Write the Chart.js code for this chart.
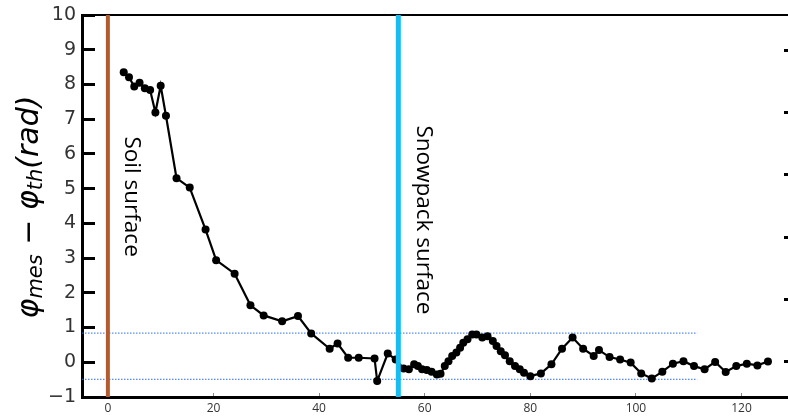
<!DOCTYPE html>
<html>
<head>
<meta charset="utf-8">
<script src="https://cdn.jsdelivr.net/npm/chart.js@4.4.1/dist/chart.umd.min.js"></script>
<style>
  html, body { margin: 0; padding: 0; background: #fff; overflow: hidden; }
  #wrap { width: 800px; height: 419px; }
</style>
</head>
<body>
<div id="wrap"><canvas id="chart" width="800" height="419"></canvas></div>
<script>
// --- data ---
const depth = [3, 4, 5, 6, 7, 8, 9, 10, 11, 13, 15.5, 18.5, 20.5, 24, 27, 29.5, 33, 36, 38.5, 42,
  43.5, 45.5, 47.5, 50.5, 51, 53, 54.5, 56, 57, 58, 58.7, 59.5, 60.4, 61.3, 62.3, 63, 63.8, 64.5,
  65.2, 66, 66.7, 67.3, 68.1, 69, 69.8, 70.9, 71.9, 72.9, 73.6, 74.4, 75.2, 76.1, 77.1, 78, 78.8,
  80, 82, 84, 86, 88, 90, 92, 93, 95, 97, 99, 101, 103, 105, 107, 109, 111, 113, 115, 117, 119,
  121, 123, 125];
const phaseDiff = [8.35, 8.21, 7.94, 8.05, 7.89, 7.84, 7.19, 7.96, 7.10, 5.30, 5.03, 3.82, 2.94,
  2.55, 1.64, 1.35, 1.18, 1.33, 0.83, 0.39, 0.54, 0.13, 0.13, 0.11, -0.54, 0.25, 0.08, -0.18,
  -0.20, -0.06, -0.11, -0.20, -0.22, -0.27, -0.35, -0.33, -0.11, 0.03, 0.18, 0.28, 0.42, 0.56,
  0.66, 0.80, 0.80, 0.71, 0.75, 0.61, 0.47, 0.32, 0.20, 0.03, -0.11, -0.20, -0.30, -0.40, -0.32,
  -0.06, 0.39, 0.71, 0.39, 0.18, 0.35, 0.15, 0.08, -0.01, -0.32, -0.47, -0.27, -0.04, 0.03, -0.11,
  -0.20, 0.01, -0.28, -0.11, -0.04, -0.09, 0.02];

const soilSurface = 0;
const snowSurface = 55;
const bandLevels = [0.84, -0.49];
const bandEnd = 111.6;

const xTickValues = [0, 20, 40, 60, 80, 100, 120];
const rightTickValues = [0, 1, 2, 3, 4, 5];

const notes = [
  { text: 'Soil surface', x: 4.4, y: 4.77 },
  { text: 'Snowpack surface', x: 59.7, y: 4.1 }
];

const xMin = -4.9, xMax = 130.5;

// vertical marker lines + band lines
const vLine = (x, color, w) => ({
  data: [{ x: x, y: -1 }, { x: x, y: 10 }],
  borderColor: color, borderWidth: w, pointRadius: 0, order: 0
});
const hLine = (y) => ({
  data: [{ x: xMin, y: y }, { x: bandEnd, y: y }],
  borderColor: '#2f6df0', borderWidth: 1, borderDash: [1.5, 1.5], pointRadius: 0, order: 2
});

// no extra room for half-labels at the ends of the axes
const noPad = s => { s.paddingTop = 0; s.paddingBottom = 0; s.paddingLeft = 0; s.paddingRight = 0; };

// rotated notes at data positions
const notesPlugin = {
  id: 'notes',
  afterDatasetsDraw(chart) {
    const { ctx, scales: { x, y } } = chart;
    ctx.save();
    ctx.font = '22.5px "Open Sans"';
    ctx.fillStyle = '#000';
    ctx.textAlign = 'center';
    ctx.textBaseline = 'middle';
    notes.forEach(n => {
      ctx.save();
      ctx.translate(x.getPixelForValue(n.x), y.getPixelForValue(n.y));
      ctx.rotate(Math.PI / 2);
      ctx.fillText(n.text, 0, 0);
      ctx.restore();
    });
    ctx.restore();
  }
};

// y axis title with subscripts
const yTitlePlugin = {
  id: 'yTitle',
  afterDraw(chart) {
    const { ctx, chartArea } = chart;
    const big = 'italic 30px "DejaVu Sans"';
    const small = 'italic 21px "DejaVu Sans"';
    const parts = [
      { t: 'φ', f: big, dy: 0 },
      { t: 'mes', f: small, dy: 7 },
      { t: ' − ', f: '30px "DejaVu Sans"', dy: 0 },
      { t: 'φ', f: big, dy: 0 },
      { t: 'th', f: small, dy: 7 },
      { t: '(rad)', f: big, dy: 0 }
    ];
    ctx.save();
    let total = 0;
    parts.forEach(p => {
      ctx.font = p.f;
      p.w = ctx.measureText(p.t).width;
      total += p.w;
    });
    ctx.translate(chartArea.left - 52, 207);
    ctx.rotate(-Math.PI / 2);
    ctx.fillStyle = '#000';
    ctx.textBaseline = 'middle';
    let pos = -total / 2;
    parts.forEach(p => {
      ctx.font = p.f;
      ctx.fillText(p.t, pos, p.dy);
      pos += p.w;
    });
    ctx.restore();
  }
};

new Chart(document.getElementById('chart'), {
  type: 'line',
  data: {
    datasets: [
      vLine(soilSurface, '#b35a2e', 4),
      vLine(snowSurface, '#16bdf0', 5),
      hLine(bandLevels[0]),
      hLine(bandLevels[1]),
      {
        data: depth.map((d, i) => ({ x: d, y: phaseDiff[i] })),
        borderColor: '#000', borderWidth: 2.2,
        pointRadius: 4, pointBackgroundColor: '#000', pointBorderWidth: 0,
        order: 1
      }
    ]
  },
  options: {
    responsive: false,
    animation: false,
    layout: { autoPadding: false, padding: { left: 0, right: 3, top: 15, bottom: 0 } },
    plugins: { legend: { display: false }, tooltip: { enabled: false } },
    scales: {
      x: {
        type: 'linear', min: xMin, max: xMax,
        afterBuildTicks: s => { s.ticks = xTickValues.map(v => ({ value: v })); },
        afterFit: s => { s.height = 22; noPad(s); },
        grid: { drawOnChartArea: false, tickLength: -4, color: '#888', tickColor: '#888', lineWidth: 1, tickWidth: 1 },
        border: { color: '#000', width: 3 },
        ticks: { font: { family: 'Open Sans', size: 12 }, color: '#333', padding: 8 }
      },
      xTop: {
        type: 'linear', position: 'top', min: xMin, max: xMax,
        afterFit: s => { s.height = 0; noPad(s); },
        grid: { display: false },
        border: { color: '#000', width: 2 },
        ticks: { display: false }
      },
      y: {
        min: -1, max: 10,
        ticks: {
          stepSize: 1, padding: 6,
          font: { family: 'DejaVu Sans', size: 19 }, color: '#333',
          callback: v => String(v).replace('-', '\u2212')
        },
        afterFit: s => { s.width = 82; noPad(s); },
        grid: { drawOnChartArea: false, drawTicks: false },
        border: { color: '#000', width: 3 }
      },
      // second scale pinned to the left spine, used only for its inward tick marks
      yTicks: {
        position: { x: xMin }, min: -1, max: 10,
        ticks: { display: false, stepSize: 1 },
        afterFit: s => { s.width = 0; noPad(s); },
        grid: { drawOnChartArea: false, tickLength: -13, color: '#000', tickColor: '#000', lineWidth: 3, tickWidth: 3 },
        border: { display: false }
      },
      yRight: {
        position: 'right', min: -0.561, max: 5.561,
        afterBuildTicks: s => { s.ticks = rightTickValues.map(v => ({ value: v })); },
        afterFit: s => { s.width = 0; noPad(s); },
        ticks: { display: false },
        grid: { drawOnChartArea: false, tickLength: -13, color: '#000', tickColor: '#000', lineWidth: 3, tickWidth: 3 },
        border: { display: false }
      }
    }
  },
  plugins: [notesPlugin, yTitlePlugin]
});
</script>
</body>
</html>
